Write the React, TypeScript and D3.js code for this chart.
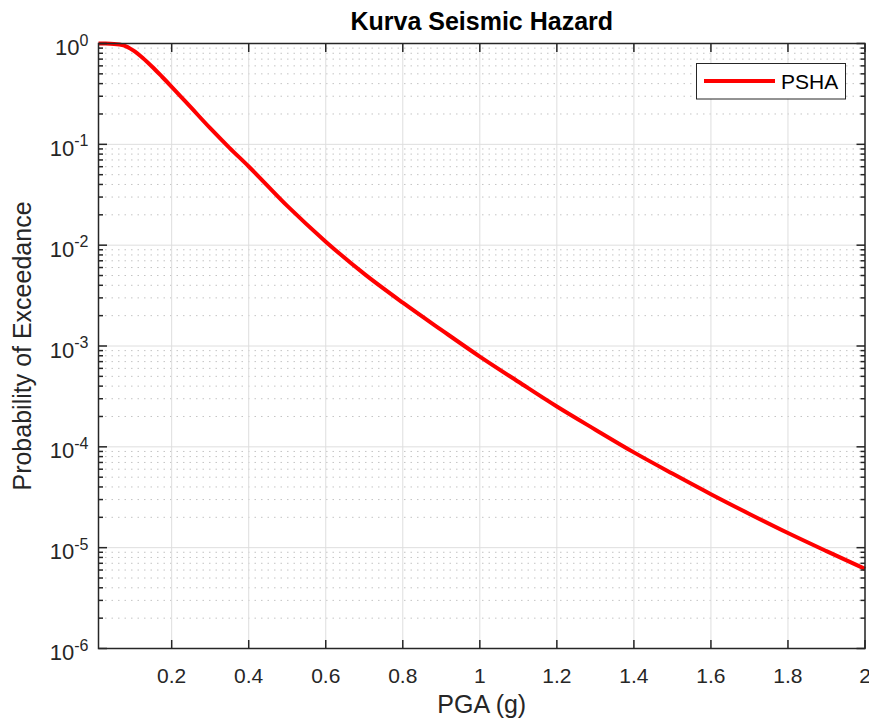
import React from "react";
import * as d3 from "d3";

// PGA (g) values and probability of exceedance
const pga = [0.01, 0.025, 0.05, 0.075, 0.1, 0.125, 0.15, 0.175, 0.2, 0.25, 0.3, 0.35, 0.4, 0.5, 0.6, 0.7, 0.8, 0.9, 1.0, 1.1, 1.2, 1.3, 1.4, 1.5, 1.6, 1.7, 1.8, 1.9, 2.0];
const poe = [1.0, 0.998, 0.99, 0.959, 0.855, 0.719, 0.585, 0.468, 0.372, 0.232, 0.1445, 0.0923, 0.0603, 0.0245, 0.01084, 0.00519, 0.00269, 0.001445, 0.000785, 0.000442, 0.000251, 0.000148, 0.0000881, 0.0000543, 0.0000339, 0.0000216, 0.00001396, 0.00000923, 0.00000617];

const xTicks = [0.2, 0.4, 0.6, 0.8, 1, 1.2, 1.4, 1.6, 1.8, 2];
const yExponents = [0, -1, -2, -3, -4, -5, -6];
const seriesName = "PSHA";
const title = "Kurva Seismic Hazard";
const xLabel = "PGA (g)";
const yLabel = "Probability of Exceedance";

const W = 869;
const H = 722;
const margin = { top: 43.5, right: 4, bottom: 73.5, left: 98.5 };
const font = "'Liberation Sans', Arial, Helvetica, sans-serif";
const axisColor = "#262626";

export default function App() {
  const x = d3.scaleLinear().domain([0.01, 2]).range([margin.left, W - margin.right]);
  const y = d3.scaleLog().domain([1e-6, 1]).range([H - margin.bottom, margin.top]);

  const data = pga.map((p, i) => ({ p, v: poe[i] }));
  const line = d3.line<{ p: number; v: number }>()
    .x(d => x(d.p))
    .y(d => y(d.v))
    .curve(d3.curveMonotoneX);

  // minor y values: 2..9 x 10^k
  const minor: number[] = [];
  for (let k = -6; k < 0; k++) {
    for (let m = 2; m <= 9; m++) minor.push(m * Math.pow(10, k));
  }

  const [x0, x1] = x.range();
  const [y0, y1] = y.range();
  const majorLen = 8.5;
  const minorLen = 4.5;

  return (
    <svg width={W} height={H} style={{ position: "absolute", left: 0, top: 0, background: "#fff" }}
      fontFamily={font}>
      <rect x={0} y={0} width={W} height={H} fill="#fff" />

      {/* minor grid */}
      {minor.map(v => (
        <line key={"mg" + v} x1={x0} x2={x1} y1={y(v)} y2={y(v)}
          stroke="#c4c4c4" strokeWidth={1} strokeDasharray="1.5,5" />
      ))}
      {/* major grid */}
      {yExponents.map(e => (
        <line key={"yg" + e} x1={x0} x2={x1} y1={y(Math.pow(10, e))} y2={y(Math.pow(10, e))}
          stroke="#dedede" strokeWidth={1} />
      ))}
      {xTicks.map(t => (
        <line key={"xg" + t} x1={x(t)} x2={x(t)} y1={y0} y2={y1} stroke="#dedede" strokeWidth={1} />
      ))}

      {/* curve */}
      <path d={line(data) || ""} fill="none" stroke="#ff0000" strokeWidth={4} strokeLinejoin="round" />

      {/* box */}
      <rect x={x0} y={y1} width={x1 - x0} height={y0 - y1} fill="none" stroke={axisColor} strokeWidth={1.5} />

      {/* x ticks */}
      {xTicks.map(t => (
        <g key={"xt" + t}>
          <line x1={x(t)} x2={x(t)} y1={y0} y2={y0 - majorLen} stroke={axisColor} strokeWidth={1.5} />
          <line x1={x(t)} x2={x(t)} y1={y1} y2={y1 + majorLen} stroke={axisColor} strokeWidth={1.5} />
          <text x={x(t)} y={y0 + 34} textAnchor="middle" fontSize={21} fill={axisColor}>
            {String(t)}
          </text>
        </g>
      ))}

      {/* y ticks */}
      {minor.map(v => (
        <g key={"ymt" + v}>
          <line x1={x0} x2={x0 + minorLen} y1={y(v)} y2={y(v)} stroke={axisColor} strokeWidth={1.5} />
          <line x1={x1} x2={x1 - minorLen} y1={y(v)} y2={y(v)} stroke={axisColor} strokeWidth={1.5} />
        </g>
      ))}
      {yExponents.map(e => {
        const yy = y(Math.pow(10, e));
        return (
          <g key={"yt" + e}>
            <line x1={x0} x2={x0 + majorLen} y1={yy} y2={yy} stroke={axisColor} strokeWidth={1.5} />
            <line x1={x1} x2={x1 - majorLen} y1={yy} y2={yy} stroke={axisColor} strokeWidth={1.5} />
            <text x={88.5} y={yy + 11.5} textAnchor="end" fontSize={22} fill={axisColor}>
              10<tspan fontSize={16} dy={-9.5}>{String(e)}</tspan>
            </text>
          </g>
        );
      })}

      {/* labels */}
      <text x={(x0 + x1) / 2} y={30} textAnchor="middle" fontSize={25} fontWeight="bold" fill="#000">
        {title}
      </text>
      <text x={(x0 + x1) / 2} y={713} textAnchor="middle" fontSize={25} fill={axisColor}>
        {xLabel}
      </text>
      <text transform={`translate(31,${(y0 + y1) / 2}) rotate(-90)`} textAnchor="middle" fontSize={25} fill={axisColor}>
        {yLabel}
      </text>

      {/* legend */}
      <g>
        <rect x={696.5} y={63.5} width={149} height={35.5} fill="#fff" stroke={axisColor} strokeWidth={1} />
        <line x1={704} x2={775} y1={81} y2={81} stroke="#ff0000" strokeWidth={4} />
        <text x={781} y={89} fontSize={21} fill="#000">{seriesName}</text>
      </g>
    </svg>
  );
}
